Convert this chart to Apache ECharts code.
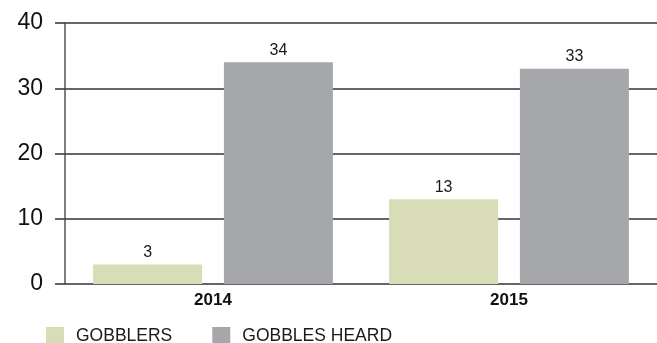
<!DOCTYPE html>
<html>
<head>
<meta charset="utf-8">
<script src="https://cdn.jsdelivr.net/npm/echarts@6/dist/echarts.min.js"></script>
<style>
  html, body { margin: 0; padding: 0; background: #fff; }
  #chart { width: 657px; height: 343px; }
</style>
</head>
<body>
<div id="chart"></div>
<script>
// Turkey survey counts by year
const years = ['2014', '2015'];
const gobblers = [3, 13];
const gobblesHeard = [34, 33];
const yTicks = [0, 10, 20, 30, 40];

const FONT = '"Liberation Sans", Arial, sans-serif';

const chart = echarts.init(document.getElementById('chart'), null, { renderer: 'canvas' });

const valueLabel = {
  show: true,
  position: 'top',
  distance: 4,
  color: '#1a1a1a',
  fontFamily: FONT,
  fontSize: 16
};

chart.setOption({
  animation: false,
  textStyle: { fontFamily: FONT },
  grid: { left: 65, right: 0, top: 23, bottom: 59 },
  legend: {
    left: 41,
    top: 322,
    itemWidth: 18,
    itemHeight: 18,
    itemGap: 40,
    icon: 'rect',
    textStyle: { fontFamily: FONT, fontSize: 17.5, color: '#1a1a1a', padding: [0, 0, 0, 7] },
    data: ['GOBBLERS', 'GOBBLES HEARD']
  },
  xAxis: {
    type: 'category',
    data: years,
    axisLine: { show: false },
    axisTick: { show: false },
    axisLabel: { color: '#111', fontWeight: 'bold', fontSize: 17, fontFamily: FONT, margin: 8 }
  },
  yAxis: {
    type: 'value',
    min: yTicks[0],
    max: yTicks[yTicks.length - 1],
    interval: 10,
    axisLine: { show: true, lineStyle: { color: '#555', width: 1.5 } },
    axisTick: { show: true, length: 10, lineStyle: { color: '#333', width: 1.5 } },
    axisLabel: { color: '#111', fontSize: 23, fontFamily: FONT, margin: 22 },
    splitLine: { show: true, lineStyle: { color: '#333', width: 1.5 } }
  },
  series: [
    {
      name: 'GOBBLERS',
      type: 'bar',
      data: gobblers,
      barWidth: 109,
      barGap: '20%',
      itemStyle: { color: '#d8ddb8' },
      label: valueLabel
    },
    {
      name: 'GOBBLES HEARD',
      type: 'bar',
      data: gobblesHeard,
      barWidth: 109,
      itemStyle: { color: '#a6a7ab' },
      label: valueLabel
    }
  ]
});
</script>
</body>
</html>
